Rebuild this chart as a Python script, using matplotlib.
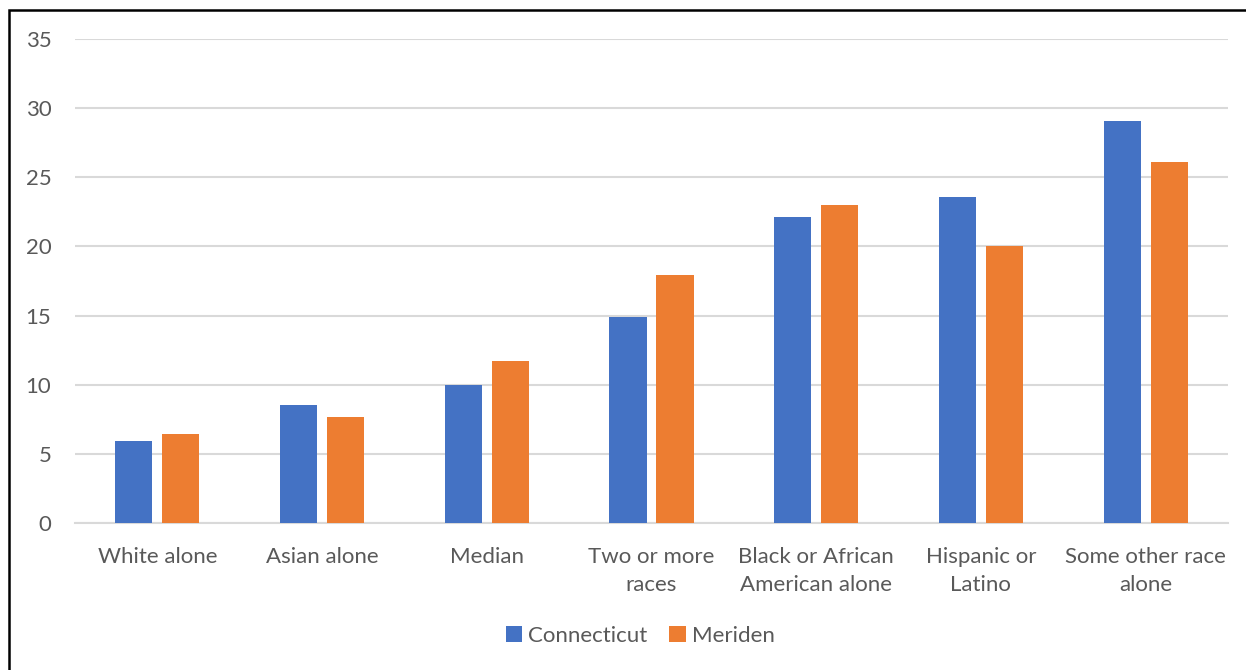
import numpy as np
import matplotlib
matplotlib.use("Agg")
import matplotlib.pyplot as plt
from matplotlib.patches import Rectangle

plt.rcParams['font.family'] = ['Lato', 'DejaVu Sans']

# data
categories = ["White alone", "Asian alone", "Median", "Two or more\nraces",
              "Black or African\nAmerican alone", "Hispanic or\nLatino",
              "Some other race\nalone"]
connecticut = [5.9, 8.5, 10.0, 14.9, 22.1, 23.6, 29.1]
meriden = [6.4, 7.7, 11.7, 17.9, 23.0, 20.0, 26.1]
series_names = ["Connecticut", "Meriden"]
yticks = [0, 5, 10, 15, 20, 25, 30, 35]

blue = "#4472C4"
orange = "#ED7D31"
txt = "#595959"

W, H = 1246, 670
fig = plt.figure(figsize=(W / 100, H / 100), dpi=100)
ax = fig.add_axes([75 / W, (H - 523) / H, (1228 - 75) / W, (523 - 39) / H])

x = np.arange(len(categories))
bw = 0.225
gap = 0.06
ax.bar(x - (bw + gap) / 2, connecticut, bw, color=blue, label=series_names[0], zorder=3)
ax.bar(x + (bw + gap) / 2, meriden, bw, color=orange, label=series_names[1], zorder=3)

ax.set_xlim(-0.5, len(categories) - 0.5)
ax.set_ylim(0, 35)
ax.set_yticks(yticks)
ax.yaxis.grid(True, color="#d9d9d9", linewidth=1.5, zorder=0)
ax.set_xticks(x)
ax.set_xticklabels(categories, fontsize=16, color=txt, linespacing=1.55)
ax.tick_params(axis='y', labelsize=16, labelcolor=txt, length=0, pad=17)
ax.tick_params(axis='x', length=0, pad=17)
for s in ["top", "right", "left"]:
    ax.spines[s].set_visible(False)
ax.spines["bottom"].set_color("#d9d9d9")
ax.spines["bottom"].set_linewidth(1.5)

leg = fig.legend(loc="center", bbox_to_anchor=(640 / W, (H - 636) / H), ncol=2,
                 frameon=False, fontsize=16, handlelength=0.75, handleheight=0.75,
                 handletextpad=0.25, columnspacing=1.0)
for t in leg.get_texts():
    t.set_color(txt)

# outer border of the chart frame
fig.patches.append(Rectangle((9 / W, -0.05), 1.2, (H - 10) / H + 0.05,
                             transform=fig.transFigure, fill=False,
                             edgecolor="black", linewidth=1.8, zorder=10))

fig.savefig("out.png", dpi=100)
